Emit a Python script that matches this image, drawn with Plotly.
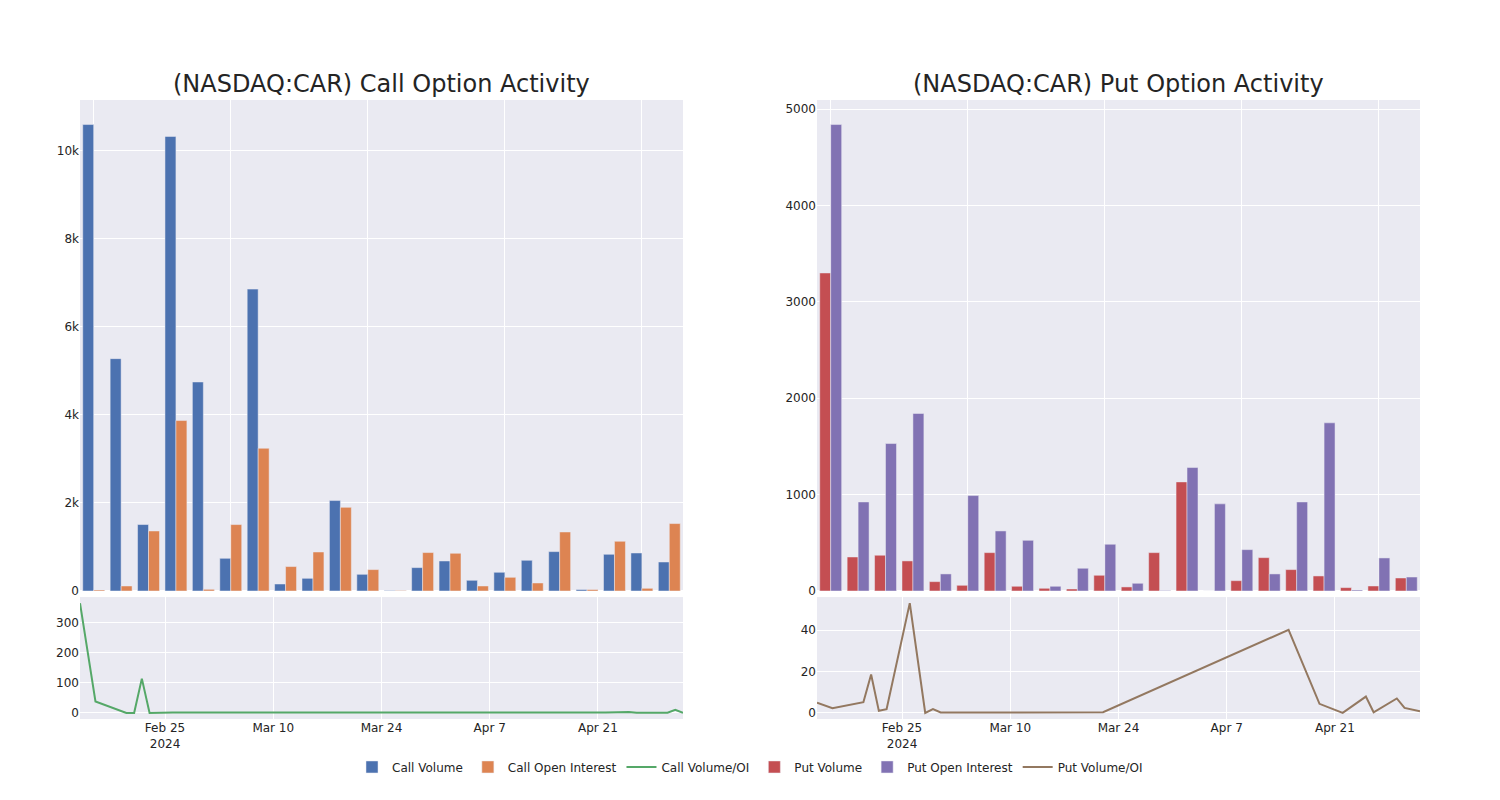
import plotly.graph_objects as go

# ---------------- data ----------------
call_dates = ["2024-02-14", "2024-02-16", "2024-02-20", "2024-02-21", "2024-02-22", "2024-02-23",
              "2024-02-26", "2024-02-28", "2024-03-01", "2024-03-06", "2024-03-12", "2024-03-18",
              "2024-03-22", "2024-04-05", "2024-04-15", "2024-04-19", "2024-04-22", "2024-04-25",
              "2024-04-26", "2024-04-30", "2024-05-01", "2024-05-02"]
call_volume = [10600, 5280, 1510, 10330, 4750, 743, 6860, 159, 288, 2055, 379,
               10, 531, 682, 243, 425, 698, 895, 32, 834, 864, 659]
call_oi = [23, 114, 1364, 3873, 38, 1509, 3243, 555, 886, 1902, 486,
           10, 873, 857, 114, 311, 182, 1341, 32, 1130, 61, 1532]
call_ratio = [365, 38, 0, 0, 114, 0, 1, 1, 0.5, 0.3, 0.2,
              0.2, 0.2, 0.2, 0.3, 1, 1.5, 3, 0.5, 0.5, 10, 0.5]

put_dates = ["2024-02-14", "2024-02-16", "2024-02-20", "2024-02-21", "2024-02-22", "2024-02-23",
             "2024-02-26", "2024-02-28", "2024-02-29", "2024-03-01", "2024-03-06", "2024-03-11",
             "2024-03-15", "2024-03-22", "2024-04-15", "2024-04-19", "2024-04-22", "2024-04-25",
             "2024-04-26", "2024-04-29", "2024-04-30", "2024-05-02"]
put_volume = [3300, 353, 371, 312, 97, 59, 398, 49, 28, 21, 163,
              42, 398, 1132, 0, 107, 346, 222, 156, 35, 52, 135]
put_oi = [4840, 924, 1530, 1842, 177, 990, 623, 526, 49, 236, 485,
          80, 5, 1281, 904, 429, 177, 924, 1745, 10, 343, 145]
put_ratio = [4.9, 2.3, 5.2, 18.6, 1.0, 1.8, 53.1, 0, 1.8, 0.2, 0.2,
             0.2, 0.2, 0.3, 40.2, 4.4, 0, 7.9, 0.3, 7.0, 2.4, 0.8]

# ---------------- figure ----------------
fig = go.Figure()

fig.add_trace(go.Bar(x=call_dates, y=call_volume, name="Call Volume",
                     marker_color="#4C72B0", xaxis="x", yaxis="y"))
fig.add_trace(go.Bar(x=call_dates, y=call_oi, name="Call Open Interest",
                     marker_color="#DD8452", xaxis="x", yaxis="y"))
fig.add_trace(go.Scatter(x=call_dates, y=call_ratio, name="Call Volume/OI", mode="lines",
                         line=dict(color="#55A868", width=2), xaxis="x2", yaxis="y2"))
fig.add_trace(go.Bar(x=put_dates, y=put_volume, name="Put Volume",
                     marker_color="#C44E52", xaxis="x3", yaxis="y3"))
fig.add_trace(go.Bar(x=put_dates, y=put_oi, name="Put Open Interest",
                     marker_color="#8172B3", xaxis="x3", yaxis="y3"))
fig.add_trace(go.Scatter(x=put_dates, y=put_ratio, name="Put Volume/OI", mode="lines",
                         line=dict(color="#937860", width=2), xaxis="x4", yaxis="y4"))

top_dom = [0.2068, 1.0]
bot_dom = [0.0, 0.197]
left_dom = [0.0, 0.45]
right_dom = [0.55, 1.0]

fig.update_layout(
    template="seaborn",
    width=1500, height=800,
    margin=dict(l=72, r=88, t=92, b=89),
    font=dict(family="DejaVu Sans", size=12),
    barmode="group",
    bargap=0.2,
    showlegend=True,
    legend=dict(orientation="h", x=0.5, xanchor="center", y=-0.0775, yanchor="middle",
                font=dict(size=12)),
    xaxis=dict(domain=left_dom, anchor="y", type="category", showticklabels=False,
               tick0=0, dtick=5),
    yaxis=dict(domain=top_dom, anchor="x"),
    xaxis2=dict(domain=left_dom, anchor="y2", type="date"),
    yaxis2=dict(domain=bot_dom, anchor="x2"),
    xaxis3=dict(domain=right_dom, anchor="y3", type="category", showticklabels=False,
                tick0=0, dtick=5),
    yaxis3=dict(domain=top_dom, anchor="x3"),
    xaxis4=dict(domain=right_dom, anchor="y4", type="date"),
    yaxis4=dict(domain=bot_dom, anchor="x4"),
    annotations=[
        dict(text="(NASDAQ:CAR) Call Option Activity", x=sum(left_dom) / 2, y=1.0,
             xref="paper", yref="paper", xanchor="center", yanchor="bottom",
             showarrow=False, yshift=0, font=dict(size=24)),
        dict(text="(NASDAQ:CAR) Put Option Activity", x=sum(right_dom) / 2, y=1.0,
             xref="paper", yref="paper", xanchor="center", yanchor="bottom",
             showarrow=False, yshift=0, font=dict(size=24)),
    ],
)

fig.write_html("out.html")
